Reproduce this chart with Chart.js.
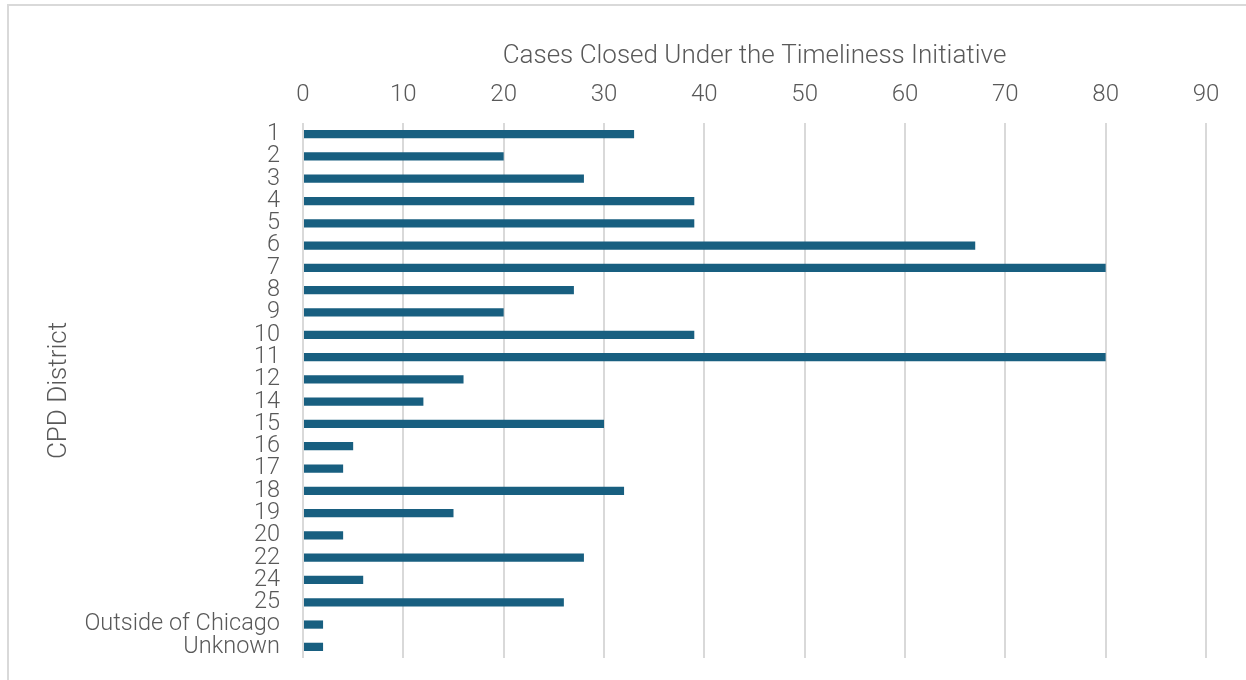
<!DOCTYPE html>
<html>
<head>
<meta charset="utf-8">
<script src="https://cdn.jsdelivr.net/npm/chart.js@4.4.1/dist/chart.umd.min.js"></script>
<style>
  html, body { margin: 0; padding: 0; background: #fff; overflow: hidden; }
  #frame {
    position: absolute; left: 7px; top: 4px; width: 1300px; height: 720px;
    border-left: 2px solid #d9d9d9; border-top: 2px solid #d9d9d9;
  }
  #wrap { position: absolute; left: 0; top: 0; width: 1246px; height: 680px; }
</style>
</head>
<body>
<div id="frame"></div>
<div id="wrap"><canvas id="c" width="1246" height="680"></canvas></div>
<script>
// CPD districts and the number of cases closed in each
const districts = ['1','2','3','4','5','6','7','8','9','10','11','12','14','15','16','17','18','19','20','22','24','25','Outside of Chicago','Unknown'];
const casesClosed = [33, 20, 28, 39, 39, 67, 80, 27, 20, 39, 80, 16, 12, 30, 5, 4, 32, 15, 4, 28, 6, 26, 2, 2];

const xMin = 0, xMax = 90, xStep = 10;
const xTitle = 'Cases Closed Under the Timeliness Initiative';
const yTitle = 'CPD District';

const FONT = "'Roboto', 'Liberation Sans', sans-serif";
const TEXT = '#595959';

new Chart(document.getElementById('c'), {
  type: 'bar',
  data: {
    labels: districts,
    datasets: [{
      data: casesClosed,
      backgroundColor: '#185f80',
      borderWidth: 0,
      barPercentage: 0.37,
      categoryPercentage: 1.0
    }]
  },
  options: {
    indexAxis: 'y',
    responsive: false,
    animation: false,
    layout: { padding: { top: 0, left: 0, right: 40, bottom: 22 } },
    plugins: { legend: { display: false }, tooltip: { enabled: false } },
    scales: {
      x: {
        position: 'top',
        min: xMin, max: xMax,
        ticks: { stepSize: xStep, color: TEXT, padding: 14, font: { family: FONT, size: 24, weight: 300 } },
        grid: { color: '#d9d9d9', lineWidth: 2, drawTicks: false },
        border: { display: false },
        title: { display: true, text: xTitle, color: TEXT, padding: { top: 41, bottom: 0 }, font: { family: FONT, size: 26, weight: 300 } },
        afterFit: (s) => { s.height = 123; }
      },
      y: {
        ticks: { color: TEXT, padding: 23, autoSkip: false, font: { family: FONT, size: 23.5, weight: 300, lineHeight: 1.0 } },
        grid: { display: false, drawTicks: false },
        border: { display: false },
        title: { display: true, text: yTitle, color: TEXT, padding: { top: 44, bottom: 0 }, font: { family: FONT, size: 26, weight: 300 } },
        afterFit: (s) => { s.width = 303; s.paddingTop = 0; s.paddingBottom = 0; }
      }
    }
  }
});
</script>
</body>
</html>
